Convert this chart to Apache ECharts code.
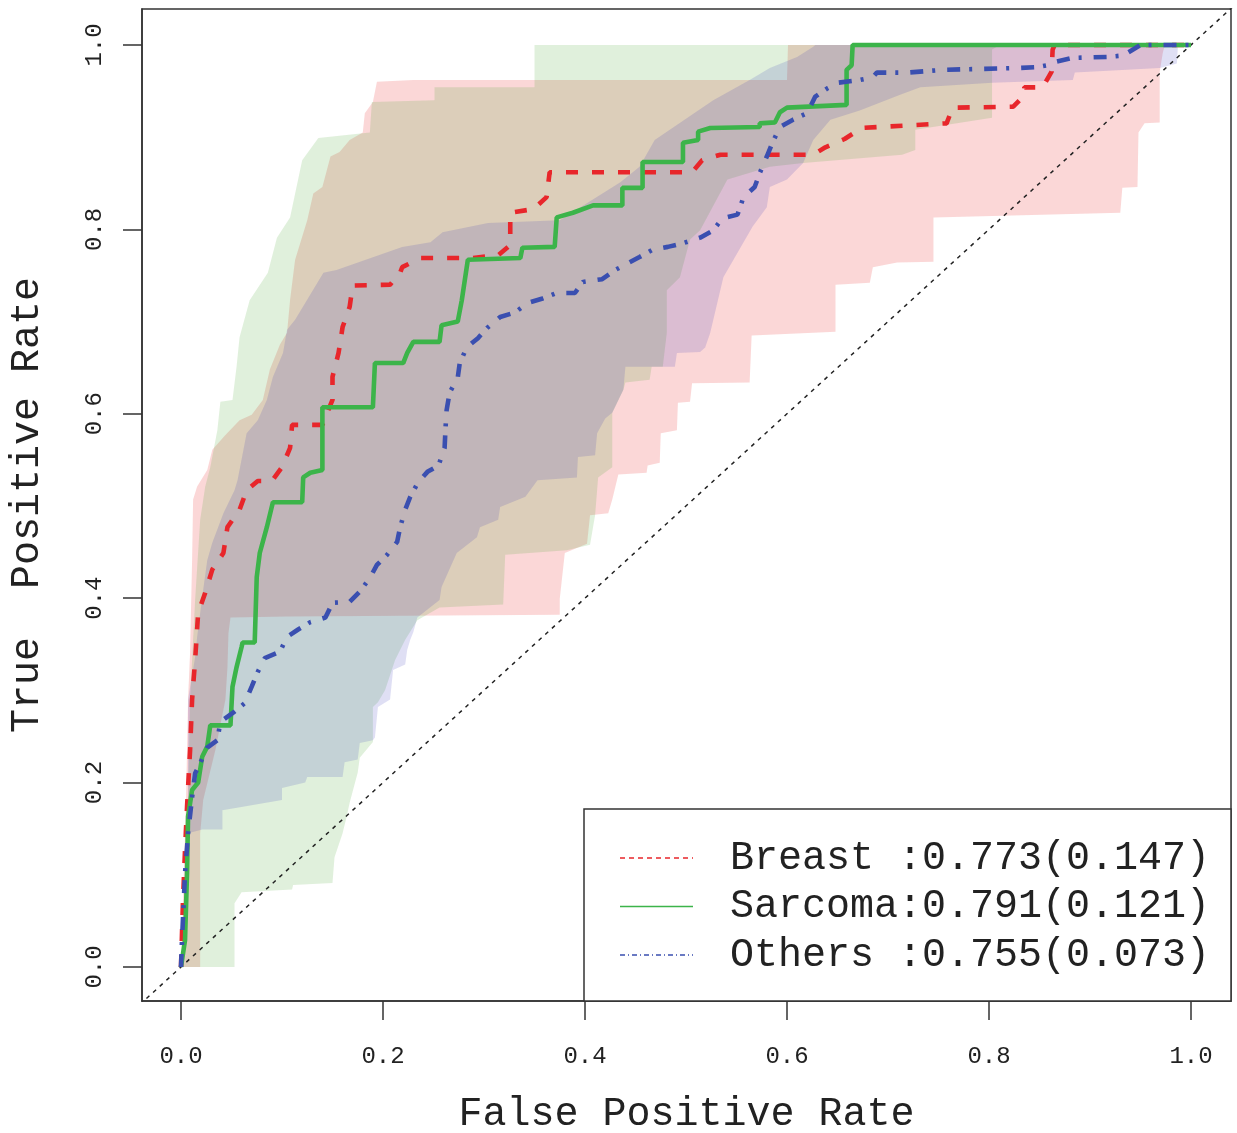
<!DOCTYPE html>
<html><head><meta charset="utf-8">
<script src="https://cdn.jsdelivr.net/npm/echarts@6/dist/echarts.min.js"></script>
<style>html,body{margin:0;padding:0;background:#fff}#c{width:1237px;height:1133px}</style>
</head><body><div id="c"></div>
<script>
const groups = ['Breast', 'Sarcoma', 'Others'];
const aucMean = [0.773, 0.791, 0.755];
const aucSd = [0.147, 0.121, 0.073];
const xTicks = [0, 0.2, 0.4, 0.6, 0.8, 1.0];
const yTicks = [0, 0.2, 0.4, 0.6, 0.8, 1.0];
const chanceLine = [[-0.1, -0.1], [1.1, 1.1]];

const breastRoc = [[0,0],[0.002,0.073],[0.004,0.127],[0.006,0.174],[0.009,0.235],[0.011,0.290],[0.014,0.333],[0.017,0.384],[0.024,0.406],[0.031,0.431],[0.042,0.449],[0.046,0.477],[0.058,0.496],[0.065,0.517],[0.076,0.527],[0.090,0.527],[0.100,0.542],[0.108,0.563],[0.110,0.588],[0.140,0.588],[0.150,0.615],[0.150,0.640],[0.156,0.666],[0.160,0.694],[0.167,0.716],[0.170,0.739],[0.207,0.740],[0.217,0.753],[0.219,0.759],[0.237,0.769],[0.289,0.769],[0.314,0.772],[0.326,0.783],[0.326,0.818],[0.349,0.822],[0.362,0.835],[0.365,0.862],[0.506,0.862],[0.516,0.875],[0.534,0.881],[0.626,0.881],[0.638,0.889],[0.657,0.898],[0.674,0.910],[0.758,0.915],[0.764,0.932],[0.824,0.933],[0.834,0.944],[0.835,0.954],[0.853,0.954],[0.862,0.971],[0.863,0.995],[0.865,1.0],[1.0,1.0]];

const sarcomaRoc = [[0,0],[0.004,0.029],[0.006,0.102],[0.007,0.163],[0.011,0.192],[0.017,0.200],[0.021,0.228],[0.026,0.239],[0.029,0.262],[0.049,0.262],[0.051,0.304],[0.055,0.325],[0.060,0.347],[0.061,0.352],[0.073,0.352],[0.075,0.423],[0.078,0.449],[0.085,0.477],[0.091,0.504],[0.120,0.504],[0.121,0.531],[0.128,0.536],[0.140,0.539],[0.140,0.607],[0.190,0.607],[0.192,0.655],[0.220,0.655],[0.224,0.666],[0.230,0.678],[0.256,0.678],[0.258,0.696],[0.274,0.700],[0.278,0.723],[0.284,0.767],[0.336,0.769],[0.338,0.780],[0.370,0.781],[0.372,0.813],[0.388,0.818],[0.408,0.826],[0.437,0.826],[0.437,0.845],[0.457,0.845],[0.457,0.873],[0.497,0.873],[0.497,0.894],[0.512,0.897],[0.512,0.906],[0.524,0.910],[0.573,0.911],[0.573,0.915],[0.588,0.916],[0.593,0.927],[0.600,0.932],[0.659,0.935],[0.659,0.973],[0.664,0.978],[0.665,1.0],[1.0,1.0]];

const othersRoc = [[0,0],[0.001,0.029],[0.004,0.102],[0.006,0.130],[0.007,0.145],[0.011,0.184],[0.014,0.210],[0.019,0.221],[0.026,0.238],[0.036,0.246],[0.039,0.266],[0.053,0.277],[0.063,0.286],[0.070,0.304],[0.076,0.320],[0.083,0.335],[0.098,0.342],[0.105,0.358],[0.116,0.366],[0.128,0.374],[0.143,0.379],[0.150,0.395],[0.167,0.396],[0.177,0.407],[0.187,0.422],[0.194,0.436],[0.204,0.447],[0.214,0.461],[0.217,0.477],[0.222,0.496],[0.227,0.510],[0.235,0.526],[0.244,0.537],[0.255,0.544],[0.261,0.563],[0.262,0.586],[0.263,0.604],[0.266,0.623],[0.274,0.639],[0.276,0.655],[0.283,0.672],[0.294,0.682],[0.303,0.693],[0.316,0.705],[0.331,0.710],[0.343,0.720],[0.358,0.725],[0.372,0.731],[0.390,0.731],[0.398,0.743],[0.417,0.746],[0.430,0.756],[0.454,0.770],[0.467,0.778],[0.482,0.781],[0.497,0.785],[0.514,0.791],[0.527,0.799],[0.536,0.812],[0.551,0.816],[0.556,0.832],[0.561,0.839],[0.568,0.846],[0.573,0.861],[0.580,0.879],[0.586,0.895],[0.593,0.911],[0.606,0.919],[0.620,0.926],[0.628,0.944],[0.640,0.953],[0.650,0.959],[0.672,0.962],[0.685,0.965],[0.689,0.970],[0.719,0.970],[0.754,0.973],[0.791,0.974],[0.828,0.975],[0.848,0.976],[0.863,0.979],[0.867,0.982],[0.883,0.986],[0.917,0.987],[0.937,0.989],[0.938,0.992],[0.950,1.0],[1.0,1.0]];

const breastBandUpper = [[0,0],[0.002,0.073],[0.005,0.181],[0.007,0.290],[0.009,0.341],[0.011,0.441],[0.012,0.507],[0.016,0.521],[0.026,0.539],[0.031,0.561],[0.044,0.577],[0.058,0.593],[0.070,0.599],[0.081,0.615],[0.088,0.648],[0.098,0.675],[0.105,0.688],[0.108,0.723],[0.113,0.767],[0.125,0.810],[0.131,0.839],[0.140,0.846],[0.148,0.879],[0.157,0.884],[0.167,0.897],[0.180,0.905],[0.182,0.926],[0.190,0.938],[0.194,0.960],[0.230,0.962],[0.600,0.962],[0.601,1.0],[1.0,1.0]];
const breastBandLower = [[0.019,0],[0.019,0.145],[0.022,0.181],[0.034,0.235],[0.044,0.290],[0.046,0.325],[0.047,0.362],[0.049,0.379],[0.105,0.380],[0.375,0.382],[0.375,0.399],[0.380,0.449],[0.402,0.459],[0.405,0.490],[0.423,0.492],[0.427,0.507],[0.433,0.534],[0.461,0.536],[0.462,0.544],[0.474,0.547],[0.475,0.579],[0.491,0.582],[0.492,0.612],[0.504,0.613],[0.506,0.633],[0.563,0.634],[0.565,0.685],[0.648,0.689],[0.648,0.740],[0.682,0.742],[0.685,0.759],[0.709,0.764],[0.745,0.765],[0.745,0.813],[0.930,0.818],[0.932,0.845],[0.947,0.846],[0.948,0.905],[0.954,0.915],[0.969,0.916],[0.969,0.971],[0.972,0.991],[0.974,1.0],[1.0,1.0]];

const sarcomaBandUpper = [[0.002,0],[0.004,0.073],[0.007,0.181],[0.009,0.290],[0.014,0.398],[0.019,0.485],[0.024,0.521],[0.029,0.542],[0.036,0.582],[0.039,0.613],[0.051,0.615],[0.055,0.651],[0.058,0.683],[0.068,0.723],[0.086,0.753],[0.095,0.791],[0.108,0.813],[0.120,0.875],[0.136,0.899],[0.187,0.905],[0.189,0.938],[0.251,0.940],[0.251,0.954],[0.350,0.954],[0.350,1.0],[1.0,1.0]];
const sarcomaBandLower = [[0.053,0],[0.053,0.069],[0.060,0.081],[0.110,0.084],[0.111,0.089],[0.150,0.091],[0.152,0.119],[0.160,0.145],[0.164,0.163],[0.167,0.178],[0.175,0.211],[0.177,0.227],[0.190,0.244],[0.190,0.282],[0.195,0.287],[0.202,0.300],[0.212,0.333],[0.222,0.355],[0.234,0.376],[0.256,0.390],[0.319,0.393],[0.321,0.447],[0.382,0.452],[0.405,0.458],[0.410,0.490],[0.413,0.531],[0.427,0.542],[0.427,0.601],[0.438,0.626],[0.440,0.634],[0.464,0.637],[0.466,0.651],[0.477,0.651],[0.481,0.688],[0.481,0.734],[0.494,0.748],[0.504,0.789],[0.514,0.799],[0.541,0.854],[0.583,0.868],[0.616,0.872],[0.714,0.881],[0.727,0.886],[0.727,0.908],[0.803,0.921],[0.803,0.995],[0.811,1.0],[1.0,1.0]];

const othersBandUpper = [[0.007,0.145],[0.007,0.290],[0.014,0.336],[0.016,0.358],[0.021,0.401],[0.026,0.441],[0.031,0.460],[0.042,0.492],[0.053,0.517],[0.056,0.528],[0.065,0.579],[0.076,0.593],[0.085,0.615],[0.091,0.640],[0.101,0.666],[0.105,0.691],[0.113,0.702],[0.141,0.753],[0.154,0.756],[0.219,0.781],[0.247,0.786],[0.259,0.797],[0.304,0.807],[0.375,0.810],[0.435,0.851],[0.454,0.868],[0.469,0.897],[0.527,0.940],[0.563,0.962],[0.583,0.975],[0.610,0.987],[0.626,0.998],[0.628,1.0],[1.0,1.0]];
const othersBandLower = [[0.007,0.145],[0.021,0.149],[0.041,0.149],[0.041,0.170],[0.100,0.181],[0.100,0.194],[0.123,0.200],[0.125,0.206],[0.160,0.206],[0.162,0.222],[0.175,0.225],[0.177,0.243],[0.190,0.246],[0.192,0.249],[0.195,0.282],[0.207,0.290],[0.210,0.322],[0.222,0.328],[0.224,0.344],[0.227,0.355],[0.230,0.363],[0.234,0.379],[0.256,0.398],[0.258,0.412],[0.273,0.449],[0.293,0.466],[0.296,0.477],[0.314,0.485],[0.316,0.499],[0.341,0.510],[0.353,0.528],[0.392,0.531],[0.393,0.553],[0.410,0.555],[0.412,0.579],[0.420,0.595],[0.427,0.601],[0.438,0.626],[0.440,0.651],[0.489,0.651],[0.491,0.666],[0.514,0.667],[0.519,0.672],[0.524,0.688],[0.537,0.748],[0.566,0.803],[0.580,0.824],[0.583,0.846],[0.600,0.854],[0.616,0.872],[0.626,0.897],[0.643,0.919],[0.672,0.929],[0.712,0.946],[0.732,0.954],[0.803,0.959],[0.883,0.962],[0.885,0.970],[0.969,0.975],[0.986,0.980],[0.987,0.998],[1.0,1.0]];

const FONT = '"Liberation Mono", "Courier New", monospace';
const lineColors = ['#e8262b', '#3cb44a', '#3a4fb0'];
const bandColors = ['rgba(235,40,40,0.19)', 'rgba(60,160,40,0.16)', 'rgba(40,40,180,0.15)'];
const dashes = [[12, 14], 'solid', [13, 9, 3, 12]];
const legendDashes = [[5, 4], null, [5, 3, 1, 3]];

const labels = groups.map((g, i) => g.padEnd(7, ' ') + ':' + aucMean[i].toFixed(3) + '(' + aucSd[i].toFixed(3) + ')');
const rocs = [breastRoc, sarcomaRoc, othersRoc];
const bands = [[breastBandUpper, breastBandLower], [sarcomaBandUpper, sarcomaBandLower], [othersBandUpper, othersBandLower]];

function bandSeries(upper, lower, fill, idx) {
  const poly = upper.concat(lower.slice().reverse());
  return {
    type: 'custom', coordinateSystem: 'cartesian2d', silent: true, z: 1 + idx * 0.01,
    data: [poly[0]],
    renderItem: (params, api) => ({
      type: 'polygon',
      shape: { points: poly.map(p => api.coord(p)) },
      style: { fill: fill }
    })
  };
}

const series = [];
bands.forEach((b, i) => series.push(bandSeries(b[0], b[1], bandColors[i], i)));
series.push({
  type: 'line', data: chanceLine, symbol: 'none', silent: true, z: 2,
  lineStyle: { color: '#222', width: 1.5, type: [4, 5] }
});
rocs.forEach((r, i) => series.push({
  name: labels[i], type: 'line', data: r, symbol: 'none', showSymbol: false, z: 3 + i * 0.01,
  color: lineColors[i],
  lineStyle: { color: lineColors[i], width: 4.6, type: dashes[i] }
}));

// legend box (R-style), drawn as graphic elements
const legendBox = { x: 584, y: 809, w: 647, h: 192 };
const legendEls = [{
  type: 'rect', shape: { x: legendBox.x, y: legendBox.y, width: legendBox.w, height: legendBox.h },
  style: { fill: '#fff', stroke: '#333', lineWidth: 1.5 }, z: 100
}];
labels.forEach((l, i) => {
  const cy = 858 + i * 48.5;
  legendEls.push({
    type: 'line', shape: { x1: 620, y1: cy, x2: 693, y2: cy },
    style: { stroke: lineColors[i], lineWidth: 1.6, lineDash: legendDashes[i] }, z: 101
  });
  legendEls.push({
    type: 'text', x: 730, y: cy,
    style: { text: l, font: '40px ' + FONT, fill: '#222', textVerticalAlign: 'middle', verticalAlign: 'middle' }, z: 101
  });
});

const chart = echarts.init(document.getElementById('c'), null, { renderer: 'canvas' });
chart.setOption({
  animation: false,
  backgroundColor: '#fff',
  grid: { left: 142, right: 6, top: 9, bottom: 132, show: true, borderColor: '#333', borderWidth: 1.5, containLabel: false, outerBoundsMode: 'none' },
  xAxis: {
    type: 'value', min: -0.0386, max: 1.0396,
    splitLine: { show: false },
    axisLine: { show: true, onZero: false, lineStyle: { color: '#333', width: 1.5 } },
    axisTick: { show: true, customValues: xTicks, length: 19, lineStyle: { color: '#333', width: 1.5 } },
    axisLabel: { customValues: xTicks, formatter: v => v.toFixed(1), fontFamily: FONT, fontSize: 24, color: '#222', margin: 44 },
    name: 'False Positive Rate', nameLocation: 'middle', nameGap: 93,
    nameTextStyle: { fontFamily: FONT, fontSize: 40, color: '#222' }
  },
  yAxis: {
    type: 'value', min: -0.0369, max: 1.039,
    splitLine: { show: false },
    axisLine: { show: true, onZero: false, lineStyle: { color: '#333', width: 1.5 } },
    axisTick: { show: true, customValues: yTicks, length: 19, lineStyle: { color: '#333', width: 1.5 } },
    axisLabel: { customValues: yTicks, formatter: v => v.toFixed(1), fontFamily: FONT, fontSize: 24, color: '#222', margin: 35, rotate: 90 },
    name: 'True  Positive Rate', nameLocation: 'middle', nameGap: 95, nameRotate: 90,
    nameTextStyle: { fontFamily: FONT, fontSize: 40, color: '#222' }
  },
  graphic: legendEls,
  series: series
});
</script>
</body></html>
